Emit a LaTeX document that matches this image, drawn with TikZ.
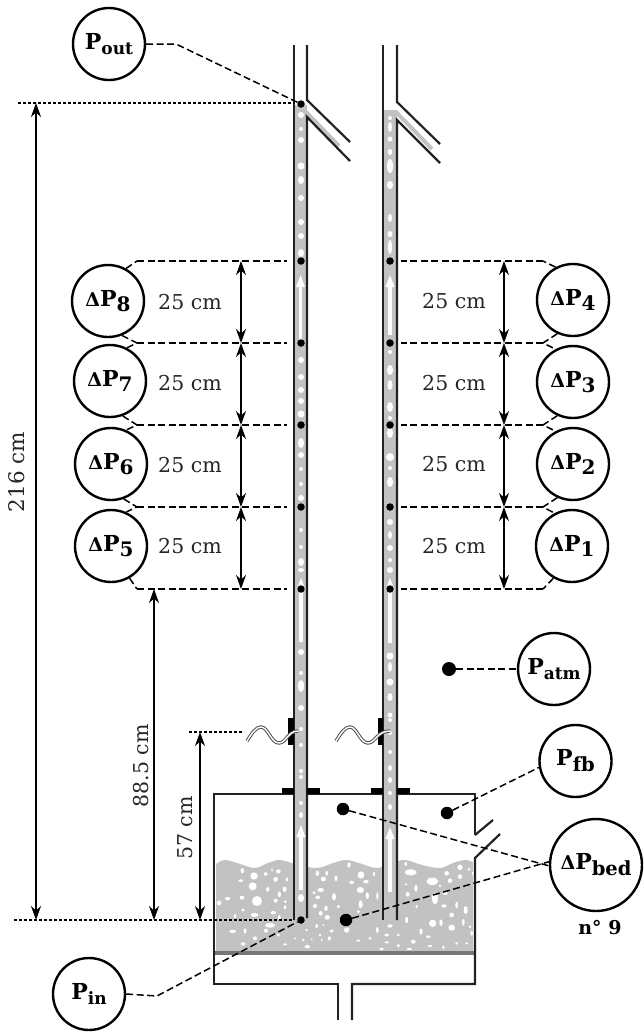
\documentclass[tikz,border=0pt]{standalone}
\usepackage{fontspec}
\setmainfont{DejaVu Serif}
\usetikzlibrary{arrows.meta}
\definecolor{bedgray}{HTML}{C2C2C2}
\definecolor{wallc}{HTML}{222222}
\definecolor{gridc}{HTML}{777777}
\newcommand{\sublet}[1]{\raisebox{-5.5pt}{\fontsize{17}{17}\selectfont #1}}
\newcommand{\sublbig}[1]{\raisebox{-6pt}{\fontsize{19.5}{19.5}\selectfont #1}}
\newcommand{\subnum}[1]{\raisebox{-5pt}{\fontsize{20}{20}\selectfont #1}}
\newcommand{\delt}{{\fontsize{19}{20}\selectfont Δ}}
\tikzset{
  gauge/.style={circle,draw=black,line width=2.4pt,fill=white,minimum size=72pt,inner sep=0pt,font=\fontsize{22}{24}\bfseries\selectfont},
  tap/.style={circle,fill=black,inner sep=0pt,minimum size=7.5pt},
  bigtap/.style={circle,fill=black,inner sep=0pt,minimum size=12.5pt},
  wall/.style={draw=wallc,line width=2.2pt},
  lead/.style={draw=black,line width=1.5pt,dash pattern=on 7pt off 3.5pt},
  level/.style={draw=black,line width=1.4pt,dash pattern=on 3pt off 2pt},
  dim/.style={draw=black,line width=1.5pt,{Stealth[length=14pt,width=10pt]}-{Stealth[length=14pt,width=10pt]}},
  dimtext/.style={font=\fontsize{20.5}{22}\selectfont,inner sep=0pt,text=black!85},
  wire/.style={draw=wallc!80,line width=1pt,double=white,double distance=1.4pt},
  plate/.style={fill=black,draw=none},
}
\begin{document}
\begin{tikzpicture}[x=1pt,y=-1pt]
\useasboundingbox[fill=white] (0,0) rectangle (644,1034);
% bed
\fill[bedgray] plot[smooth,tension=.6] coordinates {(216,864)(225,860)(240,864)(255,868)(268,863)(280,860)(295,864)(317,868)(333,863)(347,860)(362,864)(377,868)(392,863)(405,860)(422,865)(440,868)(453,863)(465,860)(473,862)} -- (473,951) -- (216,951) -- cycle;
% bubbles, left half
\foreach \zx/\zy/\rx/\ry in {97/62/5/8,132/78/11/11,167/72/6/5,186/60/2/6,205/64/7/6,92/92/7/4,197/88/7/7,231/88/4/6,128/109/12/12,173/118/5/7,224/118/6/8,208/133/5/8,27/159/7/7,53/146/8/5,96/143/7/6,141/153/15/15,197/152/6/6,226/155/5/4,99/180/5/5,75/198/4/6,134/195/12/6,190/188/8/5,225/172/4/6,180/226/15/7,208/203/4/8,68/244/10/5,105/243/4/8,168/242/6/6,135/265/6/6,205/255/5/5,99/282/7/5,225/283/6/3,290/240/4/4,255/265/3/3,280/270/4/4,292/290/8/5,305/268/3/3,322/70/5/8,350/70/4/7,340/87/8/7,378/85/5/8,312/128/5/5,332/120/10/6,372/140/6/11,323/142/7/5,315/168/6/6,348/175/5/8,332/190/6/7,352/202/8/7,385/170/5/5,320/228/4/6,340/225/3/3,365/243/6/4,330/255/4/4,358/265/5/6,335/270/3/4}
  \fill[white] ({210+\zx/3},{850+\zy/3}) ellipse ({\rx/3} and {\ry/3});
% bubbles, right half
\foreach \zx/\zy/\rx/\ry in {12/45/5/8,48/75/10/11,63/95/8/5,20/97/7/5,87/72/3/7,46/120/11/9,67/137/5/10,97/138/3/12,47/163/6/12,40/185/5/5,197/67/18/9,262/94/18/11,182/42/4/6,183/103/4/4,213/115/5/10,188/133/6/7,305/70/7/7,345/52/8/8,372/58/4/5,315/92/7/7,345/80/7/7,384/70/3/6,285/108/4/4,270/145/9/18,300/130/8/5,335/165/4/10,297/168/8/5,362/180/6/12,320/195/7/7,185/210/5/9,135/228/8/5,97/240/4/9,263/220/11/11,288/218/5/10,320/233/10/9,355/217/4/10,228/245/5/9,160/255/4/5,125/255/7/4,250/260/7/4,375/230/4/4,205/275/7/6,75/265/4/5,40/272/6/3,125/277/6/3,160/287/5/5,110/297/6/4,193/297/8/3,255/288/6/3,295/292/3/6,335/280/4/4,365/280/4/4,380/250/4/7,5/240/8/8,215/170/4/5}
  \fill[white] ({345+\zx/3},{850+\zy/3}) ellipse ({\rx/3} and {\ry/3});
% distributor
\draw[gridc,line width=3.5pt] (215,953) -- (474,953);
% vessel
\draw[wall] (475,835) -- (475,794) -- (214,794) -- (214,984) -- (338,984) -- (338,1020);
\draw[wall] (352,1020) -- (352,984) -- (475,984) -- (475,858) -- (500,834);
\draw[wall] (475,835) -- (493,820);
% pipe contents
\fill[bedgray] (294,105) rectangle (307,920);
\fill[bedgray] (383,110) rectangle (397,920);
\draw[bedgray,line width=4pt] (306,112) -- (339,146);
\draw[bedgray,line width=4pt] (396,112) -- (432,149);
% pipe bubbles
\foreach \yy/\rx/\ry in {115/3/3,129/2/2,140/3/3,166/3.5/3.5,180/3/4,198/3/3,222/3/3,236/3/3,253/3/4,360/3/3,377/3/3,390/3/3,401/3/3,414/3.5/3.5,443/3/5,455/3/3,469/2/2,484/2/2,498/3/3,530/2/2,547/2/2,562/3/4,570/3/2,652/3/3,673/2/2,686/3/6,708/3/3,729/2/2,745/2/2,771/2/2,777/2/2,803/2/2,815/2/3,898/3/4}
  \fill[white] (301,\yy) ellipse (\rx pt and \ry pt);
\foreach \yy/\rx/\ry in {118/2/2,127/2/5,139/2.5/2.5,152/2.5/3,166/3/7,185/3/4,218/2/4,234/2.5/3,247/2/7,352/2/2,370/3/5,385/2.5/5,407/3/5,418/2/2,433/3/5,457/4/4,468/2/2,482/3/5,522/3/3,535/2/4,548/3/3,560/2/2,570/3/3,656/3.5/3.5,667/2/5,682/3.5/3.5,697/2.5/4,715/2.5/2.5,720/2/2,733/2/2,752/2/2,768/2/3,780/2/3,793/2/2,807/2/3}
  \fill[white] (390,\yy) ellipse (\rx pt and \ry pt);
% white flow arrows
\foreach \xx/\ya/\yb in {300.5/340/275,390/335/275,301/642/578,390/643/578,301/890/825,390/892/827}{
  \fill[white] (\xx-1.8,\ya) rectangle (\xx+1.8,\yb+10);
  \fill[white] (\xx-4.5,\yb+12) -- (\xx,\yb) -- (\xx+4.5,\yb+12) -- cycle;
}
% pipe walls
\draw[wall] (294,45) -- (294,920);
\draw[wall] (307,45) -- (307,100) -- (350,142);
\draw[wall] (350,161) -- (307,117) -- (307,918);
\draw[wall] (383,45) -- (383,920);
\draw[wall] (397,45) -- (397,102) -- (440,144);
\draw[wall] (440,163) -- (397,120) -- (397,920);
% flanges
\fill[plate] (282,788) rectangle (294,794);
\fill[plate] (307,788) rectangle (320,794);
\fill[plate] (371,788) rectangle (383,794);
\fill[plate] (397,788) rectangle (410,794);
\fill[plate] (288,718) rectangle (294,745);
\fill[plate] (378,718) rectangle (383,745);
% wires
\draw[wire] (247,741) .. controls (252,733) and (256,727) .. (261,727) .. controls (268,727) and (271,743) .. (279,743) .. controls (286,743) and (288,731) .. (298,731);
\draw[wire] (336,741) .. controls (341,733) and (345,727) .. (350,727) .. controls (357,727) and (360,743) .. (368,743) .. controls (375,743) and (377,731) .. (390,731);
% gauges
\node[gauge] (pout) at (109,44) {P\sublet{out}};
\node[gauge] (dp8) at (108,301) {\delt P\subnum{8}};
\node[gauge] (dp7) at (110,381) {\delt P\subnum{7}};
\node[gauge] (dp6) at (111,464) {\delt P\subnum{6}};
\node[gauge] (dp5) at (111,546) {\delt P\subnum{5}};
\node[gauge] (dp4) at (573,300) {\delt P\subnum{4}};
\node[gauge] (dp3) at (573,382) {\delt P\subnum{3}};
\node[gauge] (dp2) at (573,464) {\delt P\subnum{2}};
\node[gauge] (dp1) at (572,546) {\delt P\subnum{1}};
\node[gauge] (patm) at (554,669) {P\sublet{atm}};
\node[gauge] (pfb) at (575.5,761) {P\sublbig{fb}};
\node[gauge,minimum size=92pt] (dpbed) at (596,865) {\delt P\sublbig{bed}};
\node[gauge] (pin) at (89,994) {P\sublet{in}};
\node[font=\fontsize{19}{20}\bfseries\selectfont,inner sep=0pt] (nine) at (600,928) {n° 9};
% taps
\node[tap] (tout) at (301,104) {};
\foreach \n/\yy in {a/261,b/343,c/425,d/507,e/589}{
  \node[tap] (l\n) at (301,\yy) {};
  \node[tap] (r\n) at (390,\yy) {};
}
\node[tap] (tin) at (301,920) {};
\node[tap,minimum size=14pt] (tatm) at (449,669) {};
\node[bigtap] (tfb) at (447,813) {};
\node[bigtap] (tbedu) at (343,809) {};
\node[bigtap] (tbedl) at (346,920) {};
% lead lines
\coordinate (kout) at (176,44);
\coordinate (kin) at (157,996);
\draw[lead] (pout.east) -- (kout) -- (tout);
\draw[lead] (pin.east) -- (kin) -- (tin);
\draw[lead] (tatm) -- (patm);
\draw[lead] (tfb) -- (pfb.190);
\draw[lead] (tbedu) -- (dpbed.181);
\draw[lead] (tbedl) -- (dpbed.176);
\foreach \n/\yy in {a/261,b/343,c/425,d/507,e/589}{
  \coordinate (kl\n) at (137,\yy);
  \coordinate (kr\n) at (543,\yy);
  \coordinate (al\n) at (241,\yy);
  \coordinate (ar\n) at (504,\yy);
  \draw[lead,shorten >=10pt] (kl\n) -- (l\n);
  \draw[lead,shorten >=7pt] (kr\n) -- (r\n);
}
\draw[lead] (dp8.61) -- (kla);
\draw[lead] (dp8.292) -- (klb) -- (dp7.63);
\draw[lead] (dp7.290) -- (klc) -- (dp6.66);
\draw[lead] (dp6.290) -- (kld) -- (dp5.66);
\draw[lead] (dp5.300) -- (kle);
\draw[lead] (dp4.118) -- (kra);
\draw[lead] (dp4.245) -- (krb) -- (dp3.118);
\draw[lead] (dp3.245) -- (krc) -- (dp2.118);
\draw[lead] (dp2.245) -- (krd) -- (dp1.118);
\draw[lead] (dp1.240) -- (kre);
% levels
\coordinate (lt0) at (18,103);
\coordinate (lt1) at (295,103);
\coordinate (lb0) at (14,920);
\coordinate (lb1) at (294,920);
\coordinate (lw0) at (189,732);
\coordinate (lw1) at (244,732);
\coordinate (a216) at (36,103);
\coordinate (b216) at (36,920);
\coordinate (a885) at (154,589);
\coordinate (b885) at (154,920);
\coordinate (a57) at (200,732);
\coordinate (b57) at (200,920);
\draw[level] (lt0) -- (lt1);
\draw[level] (lb0) -- (lb1);
\draw[level] (lw0) -- (lw1);
% dimensions
\draw[dim] (a216) -- (b216);
\draw[dim] (a885) -- (b885);
\draw[dim] (a57) -- (b57);
\draw[dim] (ala) -- (alb);
\draw[dim] (alb) -- (alc);
\draw[dim] (alc) -- (ald);
\draw[dim] (ald) -- (ale);
\draw[dim] (ara) -- (arb);
\draw[dim] (arb) -- (arc);
\draw[dim] (arc) -- (ard);
\draw[dim] (ard) -- (are);
\node[dimtext] (t8) at (190,302) {25 cm};
\node[dimtext] (t7) at (190,383) {25 cm};
\node[dimtext] (t6) at (190,465) {25 cm};
\node[dimtext] (t5) at (190,546) {25 cm};
\node[dimtext] (t4) at (454,301) {25 cm};
\node[dimtext] (t3) at (454,383) {25 cm};
\node[dimtext] (t2) at (454,464) {25 cm};
\node[dimtext] (t1) at (454,546) {25 cm};
\node[dimtext,rotate=90,font=\fontsize{21.5}{22}\selectfont] (t216) at (17,472) {216 cm};
\node[dimtext,rotate=90] (t885) at (141,766) {88.5 cm};
\node[dimtext,rotate=90] (t57) at (185,828) {57 cm};
\end{tikzpicture}
\end{document}
